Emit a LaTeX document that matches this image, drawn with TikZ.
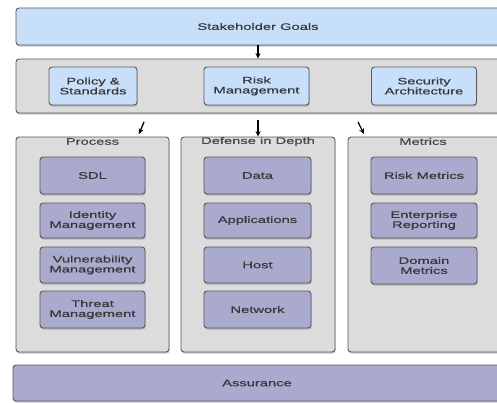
\documentclass[tikz,border=0pt]{standalone}
\usepackage{fontspec}
\setmainfont{Liberation Sans}[FakeStretch=1.55,FakeBold=0.5]
\usetikzlibrary{shadows,arrows.meta}
\definecolor{goalblue}{HTML}{C8DFFA}
\definecolor{bargray}{HTML}{DCDCDC}
\definecolor{lav}{HTML}{A9AACD}
\definecolor{edge}{HTML}{595959}
\tikzset{
  base/.style={draw=edge, line width=0.9pt, rounded corners=3pt, inner sep=0pt,
    font=\fontsize{9.5}{10}\selectfont, text=black!78, align=center,
    drop shadow={shadow xshift=0.6pt, shadow yshift=-1.6pt, opacity=0.45}},
  bluebox/.style={base, fill=goalblue},
  graybox/.style={base, fill=bargray},
  lavbox/.style={base, fill=lav},
  coltitle/.style={font=\fontsize{9.5}{10}\selectfont, text=black!72, inner sep=0pt},
  arr/.style={-{Stealth[length=5.5pt,width=5pt]}, line width=1.3pt, black}
}
\begin{document}
\begin{tikzpicture}[x=1pt,y=-1pt]
\useasboundingbox[fill=white] (0,0) rectangle (497,402);
% top
\node[bluebox, minimum width=484, minimum height=37] (goals) at (258,26.5) {Stakeholder Goals};
\node[graybox, minimum width=484, minimum height=54] (bar) at (258,86) {};
\node[bluebox, minimum width=88, minimum height=38] (policy) at (93,86) {Policy \&\\Standards};
\node[bluebox, minimum width=105, minimum height=38] (risk) at (256.5,86) {Risk\\Management};
\node[bluebox, minimum width=105, minimum height=38] (secarch) at (424,86) {Security\\Architecture};
% columns
\node[graybox, minimum width=153, minimum height=215] (process) at (92.5,244.5) {};
\node[graybox, minimum width=154, minimum height=215] (defense) at (258,244.5) {};
\node[graybox, minimum width=152, minimum height=215] (metrics) at (424,244.5) {};
\node[coltitle] (pt) at (92.5,141.5) {Process};
\node[coltitle] (dt) at (258,141.5) {Defense in Depth};
\node[coltitle] (mt) at (423,141.5) {Metrics};
% process items
\node[lavbox, minimum width=105, minimum height=37] (sdl) at (92.5,175.5) {SDL};
\node[lavbox, minimum width=105, minimum height=35] (idm) at (92.5,220.5) {Identity\\Management};
\node[lavbox, minimum width=105, minimum height=36] (vulm) at (92.5,265) {Vulnerability\\Management};
\node[lavbox, minimum width=105, minimum height=37] (thm) at (92.5,309.5) {Threat\\Management};
% defense items
\node[lavbox, minimum width=107, minimum height=37] (data) at (257.5,175.5) {Data};
\node[lavbox, minimum width=107, minimum height=35] (apps) at (257.5,220.5) {Applications};
\node[lavbox, minimum width=107, minimum height=36] (host) at (257.5,265) {Host};
\node[lavbox, minimum width=107, minimum height=37] (net) at (257.5,309.5) {Network};
% metrics items
\node[lavbox, minimum width=106, minimum height=37] (riskm) at (424,175.5) {Risk Metrics};
\node[lavbox, minimum width=106, minimum height=35] (entr) at (424,220.5) {Enterprise\\Reporting};
\node[lavbox, minimum width=106, minimum height=37] (domm) at (424,265.5) {Domain\\Metrics};
% assurance
\node[lavbox, minimum width=488, minimum height=36] (assur) at (257,383) {Assurance};
% arrows
\draw[arr] (goals.south -| 258,0) -- (bar.north -| 258,0);
\coordinate (a1s) at (144,122);
\coordinate (a1e) at (139,134);
\coordinate (a3s) at (358,122);
\coordinate (a3e) at (364,134);
\draw[arr] (a1s) -- (a1e);
\draw[arr] (bar.south -| 258,0) ++(0,7) -- (defense.north -| 258,0);
\draw[arr] (a3s) -- (a3e);
\end{tikzpicture}
\end{document}
